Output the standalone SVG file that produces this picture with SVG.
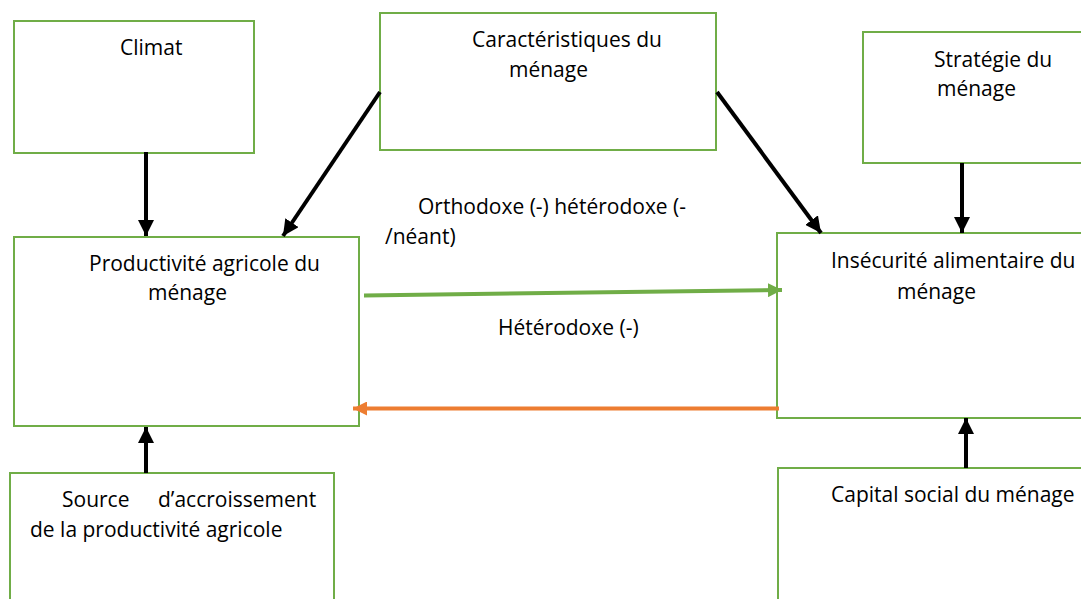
<svg xmlns="http://www.w3.org/2000/svg" width="1081" height="599" viewBox="0 0 1081 599">
<style>
.box{fill:#fff;stroke:#70AD47;stroke-width:2}
text{font-family:"Open Sans","Liberation Sans",sans-serif;font-size:21px;fill:#000}
.blk{stroke:#000;stroke-width:4;fill:none}
</style>
<defs>
<marker id="ab" viewBox="0 0 10 10" refX="10" refY="5" markerWidth="4" markerHeight="4" orient="auto" markerUnits="strokeWidth"><path d="M0,0 L10,5 L0,10 z" fill="#000"/></marker>
<marker id="ag" viewBox="0 0 10 10" refX="10" refY="5" markerWidth="3.5" markerHeight="3.5" orient="auto" markerUnits="strokeWidth"><path d="M0,0 L10,5 L0,10 z" fill="#70AD47"/></marker>
<marker id="ao" viewBox="0 0 10 10" refX="10" refY="5" markerWidth="3.5" markerHeight="3.5" orient="auto" markerUnits="strokeWidth"><path d="M0,0 L10,5 L0,10 z" fill="#ED7D31"/></marker>
</defs>
<rect width="1081" height="599" fill="#fff"/>
<g id="climat"><rect class="box" x="14" y="21" width="240" height="132"/><text x="120" y="55">Climat</text></g>
<g id="caracteristiques"><rect class="box" x="380" y="13" width="336" height="137"/><text x="472" y="47">Caractéristiques du</text><text x="509" y="77">ménage</text></g>
<g id="strategie"><rect class="box" x="863" y="32" width="222" height="131"/><text x="934" y="67">Stratégie du</text><text x="937" y="96">ménage</text></g>
<g id="productivite"><rect class="box" x="14" y="237" width="345" height="189"/><text x="89" y="271">Productivité agricole du</text><text x="148" y="300">ménage</text></g>
<g id="insecurite"><rect class="box" x="777" y="233" width="308" height="185"/><text x="831" y="268">Insécurité alimentaire du</text><text x="897" y="299">ménage</text></g>
<g id="source"><rect class="box" x="10" y="473" width="324" height="140"/><text x="62" y="507">Source</text><text x="158" y="507">d’accroissement</text><text x="30" y="537">de la productivité agricole</text></g>
<g id="capital"><rect class="box" x="778" y="468" width="307" height="145"/><text x="831" y="502">Capital social du ménage</text></g>
<g id="connectors">
<line class="blk" x1="146" y1="152" x2="146" y2="236" marker-end="url(#ab)"/>
<line class="blk" x1="380" y1="92" x2="283" y2="236" marker-end="url(#ab)"/>
<line class="blk" x1="717" y1="92" x2="821" y2="233" marker-end="url(#ab)"/>
<line class="blk" x1="962" y1="163" x2="962" y2="233" marker-end="url(#ab)"/>
<line class="blk" x1="146" y1="473" x2="146" y2="427" marker-end="url(#ab)"/>
<line class="blk" x1="966" y1="468" x2="966" y2="418" marker-end="url(#ab)"/>
<line x1="364" y1="295.5" x2="782" y2="290" stroke="#70AD47" stroke-width="4" marker-end="url(#ag)"/>
<line x1="779" y1="408.5" x2="353" y2="408.5" stroke="#ED7D31" stroke-width="4" marker-end="url(#ao)"/>
<text x="418" y="214">Orthodoxe (-) hétérodoxe (-</text>
<text x="385" y="244">/néant)</text>
<text x="498" y="335">Hétérodoxe (-)</text>
</g>
</svg>
